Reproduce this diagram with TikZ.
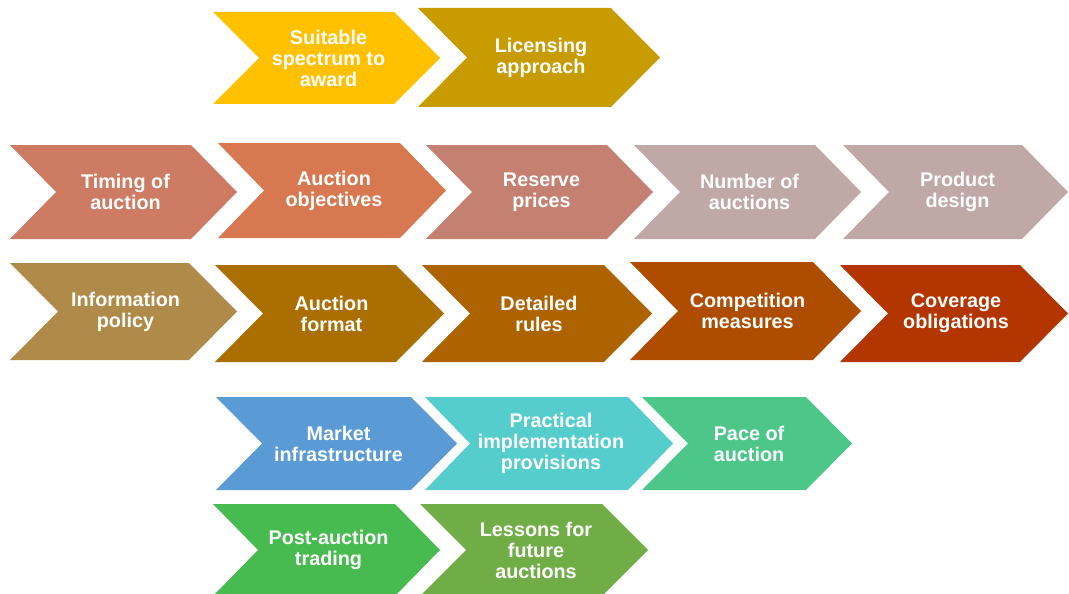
\documentclass[tikz,border=0pt]{standalone}
\usepackage{fontspec}
\setmainfont{Liberation Sans}
\begin{document}
\begin{tikzpicture}[x=1pt,y=-1pt,
  lbl/.style={text=white,align=center,inner sep=0pt,xshift=2pt,font=\fontsize{19.8}{21}\selectfont\bfseries}]
\definecolor{cSuit}{HTML}{FFC000}
\definecolor{cLic}{HTML}{C89B00}
\definecolor{cTim}{HTML}{CD7B63}
\definecolor{cObj}{HTML}{D87850}
\definecolor{cRes}{HTML}{C48070}
\definecolor{cNum}{HTML}{C0A8A6}
\definecolor{cProd}{HTML}{C0A8A6}
\definecolor{cInfo}{HTML}{AF8A48}
\definecolor{cFmt}{HTML}{AA6F00}
\definecolor{cDet}{HTML}{AD6400}
\definecolor{cComp}{HTML}{AE4C00}
\definecolor{cCov}{HTML}{B33500}
\definecolor{cMkt}{HTML}{5B9BD5}
\definecolor{cPrac}{HTML}{55CDCD}
\definecolor{cPace}{HTML}{4DC68A}
\definecolor{cPost}{HTML}{47BB4F}
\definecolor{cLes}{HTML}{70AD47}
\newcommand{\chev}[8]{%
  \fill[#7] (#2,#4) -- ({#3-#6},#4) -- (#3,{(#4+#5)/2}) -- ({#3-#6},#5) -- (#2,#5) -- ({#2+#6},{(#4+#5)/2}) -- cycle;
  \node[lbl] (#1) at ({(#2+#3)/2},{(#4+#5)/2}) {#8};}
\useasboundingbox (0,0) rectangle (1069,594);
\chev{suit}{213}{440}{12}{104}{46}{cSuit}{Suitable\\spectrum to\\award}
\chev{lic}{418}{660}{8}{107}{49}{cLic}{Licensing\\approach}
\chev{timing}{10}{237}{145}{239}{46}{cTim}{Timing of\\auction}
\chev{obj}{218}{446}{143}{238}{46}{cObj}{Auction\\objectives}
\chev{reserve}{426}{653}{145}{239}{46}{cRes}{Reserve\\prices}
\chev{number}{634}{861}{145}{239}{46}{cNum}{Number of\\auctions}
\chev{product}{843}{1068}{145}{239}{46}{cProd}{Product\\design}
\chev{info}{10}{237}{263}{360}{48}{cInfo}{Information\\policy}
\chev{format}{215}{444}{265}{362}{48}{cFmt}{Auction\\format}
\chev{detailed}{422}{652}{265}{362}{48}{cDet}{Detailed\\rules}
\chev{comp}{630}{861}{262}{360}{48}{cComp}{Competition\\measures}
\chev{cov}{840}{1068}{265}{362}{48}{cCov}{Coverage\\obligations}
\chev{market}{216}{457}{397}{490}{46}{cMkt}{Market\\infrastructure}
\chev{practical}{425}{673}{397}{490}{45}{cPrac}{Practical\\implementation\\provisions}
\chev{pace}{642}{852}{397}{490}{46}{cPace}{Pace of\\auction}
\chev{post}{213}{440}{504}{596}{45}{cPost}{Post-auction\\trading}
\chev{lessons}{420}{648}{504}{596}{46}{cLes}{Lessons for\\future\\auctions}
\end{tikzpicture}
\end{document}
